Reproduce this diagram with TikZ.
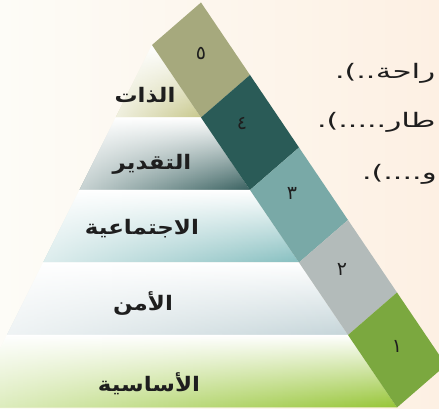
\documentclass[tikz,border=0pt]{standalone}
\usepackage{fontspec}
\usetikzlibrary{fadings}
\TeXXeTstate=1
\newfontfamily\arabicfont[Script=Arabic]{DejaVu Sans}
\newfontfamily\lblfont[Script=Arabic, FakeStretch=1.15]{DejaVu Sans}
\newfontfamily\sidefont[Script=Arabic, FakeStretch=1.55]{DejaVu Sans}
\newfontfamily\punctfont[FakeStretch=1.5]{DejaVu Sans}
\definecolor{bgL}{HTML}{FDFCF7}
\definecolor{bgR}{HTML}{FDF0E3}
\definecolor{tFive}{HTML}{A6A97D}
\definecolor{tFour}{HTML}{2A5B57}
\definecolor{tThree}{HTML}{79A9A7}
\definecolor{tTwo}{HTML}{B3BBBA}
\definecolor{tOne}{HTML}{7BA83F}
\definecolor{sFive}{HTML}{C8C88C}
\definecolor{sFour}{HTML}{38605F}
\definecolor{sThree}{HTML}{86BFC0}
\definecolor{sTwo}{HTML}{C5D5D9}
\definecolor{sOne}{HTML}{96C535}
\definecolor{ink}{HTML}{1E1E1E}
\tikzfading[name=fadeleft, left color=transparent!0, right color=transparent!100]
\begin{document}
\begin{tikzpicture}[x=1pt,y=1pt,
  lbl/.style={font=\lblfont\bfseries\fontsize{20}{24}\selectfont, text=ink, inner sep=0pt},
  num/.style={font=\arabicfont\fontsize{19}{22}\selectfont, text=ink, inner sep=0pt},
  sidep/.style={font=\punctfont\fontsize{20}{24}\selectfont, text=ink, inner sep=0pt, anchor=base west},
  sidew/.style={font=\sidefont\fontsize{20}{24}\selectfont, text=ink, inner sep=0pt, anchor=base west},
  whiteover/.style={fill=white, path fading=fadeleft, fill opacity=0.72}]
\useasboundingbox (0,0) rectangle (439,409);
\clip (0,0) rectangle (439,409);
\shade[left color=bgL, right color=bgR] (0,0) rectangle (439,409);
% pyramid stripes
\coordinate (P0) at (152,364);
\coordinate (P1) at (201,291.5);
\coordinate (P2) at (250,219);
\coordinate (P3) at (299,146.5);
\coordinate (P4) at (348,74);
\coordinate (P5) at (397,1.5);
\coordinate (Q0) at (201,406.5);
\coordinate (Q1) at (250,334);
\coordinate (Q2) at (299,261.5);
\coordinate (Q3) at (348,189);
\coordinate (Q4) at (397,116.5);
\coordinate (Q5) at (446,44);
\coordinate (L1) at (115.75,291.5);
\coordinate (L2) at (79.5,219);
\coordinate (L3) at (43.25,146.5);
\coordinate (L4) at (7,74);
\coordinate (L5) at (-29.25,1.5);
\shade[top color=white, bottom color=sFive] (P0) -- (P1) -- (L1) -- cycle;
\fill[whiteover] (P0) -- (P1) -- (L1) -- cycle;
\shade[top color=white, bottom color=sFour] (L1) -- (P1) -- (P2) -- (L2) -- cycle;
\fill[whiteover] (L1) -- (P1) -- (P2) -- (L2) -- cycle;
\shade[top color=white, bottom color=sThree] (L2) -- (P2) -- (P3) -- (L3) -- cycle;
\fill[whiteover] (L2) -- (P2) -- (P3) -- (L3) -- cycle;
\shade[top color=white, bottom color=sTwo] (L3) -- (P3) -- (P4) -- (L4) -- cycle;
\fill[whiteover] (L3) -- (P3) -- (P4) -- (L4) -- cycle;
\shade[top color=white, bottom color=sOne] (L4) -- (P4) -- (P5) -- (L5) -- cycle;
\fill[whiteover] (L4) -- (P4) -- (P5) -- (L5) -- cycle;
% band tiles
\fill[tFive] (P0) -- (Q0) -- (Q1) -- (P1) -- cycle;
\fill[tFour] (P1) -- (Q1) -- (Q2) -- (P2) -- cycle;
\fill[tThree] (P2) -- (Q2) -- (Q3) -- (P3) -- cycle;
\fill[tTwo] (P3) -- (Q3) -- (Q4) -- (P4) -- cycle;
\fill[tOne] (P4) -- (Q4) -- (Q5) -- (P5) -- cycle;
% numbers
\node[num] (n5) at (201,356) {٥};
\node[num] (n4) at (242,285) {٤};
\node[num] (n3) at (292,216) {٣};
\node[num] (n2) at (342,140) {٢};
\node[num] (n1) at (397,63) {١};
% labels
\node[lbl] (l5) at (145,314) {\beginR الذات\endR};
\node[lbl] (l4) at (152,245) {\beginR التقدير\endR};
\node[lbl] (l3) at (142,180) {\beginR الاجتماعية\endR};
\node[lbl] (l2) at (143,105) {\beginR الأمن\endR};
\node[lbl] (l1) at (149,25) {\beginR الأساسية\endR};
% side text
\node[sidep] (s1p) at (335,330) {.(..};
\node[sidew] (s1) at (s1p.base east) {\beginR راحة\endR};
\node[sidep] (s2p) at (317,281) {.(.....};
\node[sidew] (s2) at (s2p.base east) {\beginR طار\endR};
\node[sidep] (s3p) at (362,229) {.(....};
\node[sidew] (s3) at (s3p.base east) {\beginR و\endR};
\end{tikzpicture}
\end{document}
